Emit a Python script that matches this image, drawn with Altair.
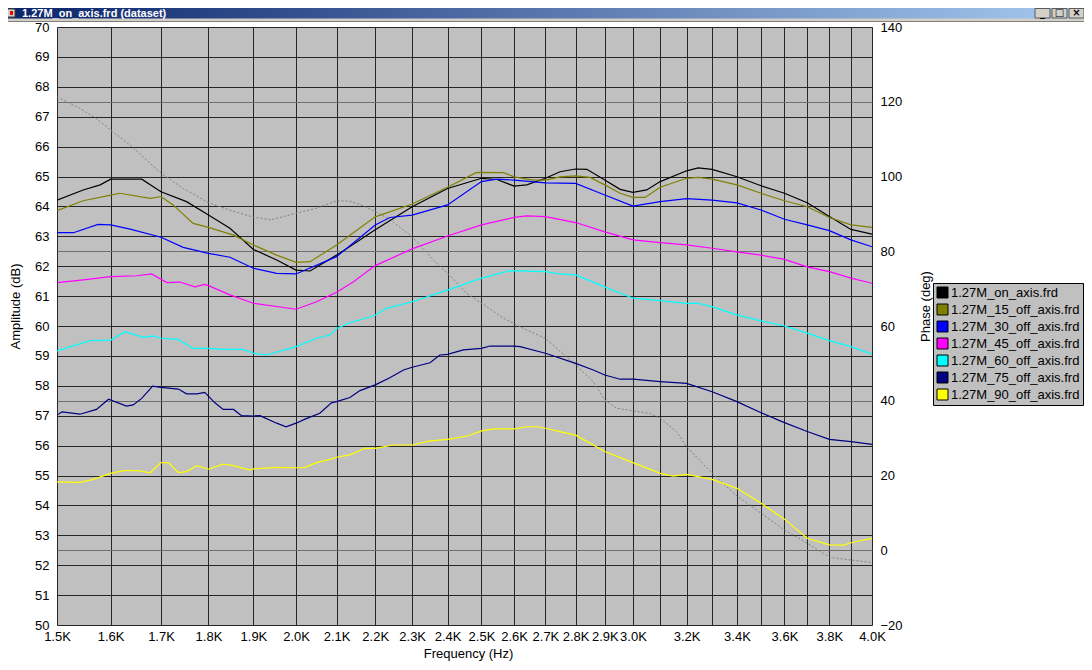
import altair as alt
import pandas as pd

FONT = "Liberation Sans"
WINDOW_TITLE = "1.27M_on_axis.frd (dataset)"

SERIES = [
    "1.27M_on_axis.frd",
    "1.27M_15_off_axis.frd",
    "1.27M_30_off_axis.frd",
    "1.27M_45_off_axis.frd",
    "1.27M_60_off_axis.frd",
    "1.27M_75_off_axis.frd",
    "1.27M_90_off_axis.frd",
]
COLORS = ["#000000", "#808000", "#0000FF", "#FF00FF", "#00FFFF", "#000080", "#FFFF00"]

ON_F = [1500, 1548, 1580, 1600, 1661, 1700, 1753, 1800, 1847, 1900, 1954, 2000, 2034, 2100, 2200,
        2300, 2400, 2500, 2547, 2600, 2640, 2700, 2748, 2800, 2838, 2900, 2954, 3000, 3050, 3100,
        3200, 3245, 3300, 3400, 3500, 3600, 3700, 3800, 3900, 4000]
ON_DB = [64.21, 64.55, 64.72, 64.91, 64.91, 64.49, 64.16, 63.71, 63.27, 62.56, 62.21, 61.87, 61.84,
         62.37, 63.22, 63.99, 64.60, 64.94, 64.90, 64.68, 64.72, 64.94, 65.16, 65.25, 65.24, 64.88,
         64.57, 64.47, 64.55, 64.83, 65.19, 65.29, 65.24, 64.99, 64.69, 64.44, 64.12, 63.66, 63.23,
         63.07]

D15_F = [1500, 1548, 1600, 1618, 1678, 1700, 1725, 1767, 1800, 1855, 1900, 1954, 2000, 2034, 2100,
         2200, 2300, 2400, 2484, 2500, 2567, 2600, 2661, 2700, 2748, 2800, 2849, 2900, 2954, 3000,
         3044, 3100, 3200, 3245, 3300, 3400, 3500, 3600, 3700, 3800, 3900, 4000]
D15_DB = [63.86, 64.19, 64.38, 64.44, 64.27, 64.33, 64.05, 63.43, 63.30, 63.04, 62.71, 62.37, 62.13,
          62.15, 62.71, 63.65, 64.08, 64.64, 65.13, 65.14, 65.13, 64.99, 64.88, 64.88, 64.99, 65.02,
          64.97, 64.72, 64.44, 64.30, 64.30, 64.64, 64.94, 64.97, 64.91, 64.72, 64.44, 64.19, 63.99,
          63.63, 63.38, 63.30]

D30_F = [1500, 1530, 1576, 1600, 1638, 1700, 1746, 1800, 1847, 1900, 1954, 2000, 2100, 2200, 2239,
         2300, 2400, 2500, 2547, 2600, 2700, 2800, 2900, 3000, 3100, 3200, 3300, 3400, 3500, 3600,
         3700, 3800, 3900, 4000]
D30_DB = [63.12, 63.12, 63.40, 63.38, 63.24, 62.97, 62.63, 62.43, 62.30, 61.93, 61.76, 61.74, 62.32,
          63.38, 63.63, 63.71, 64.05, 64.83, 64.91, 64.88, 64.79, 64.77, 64.38, 64.01, 64.16, 64.26,
          64.21, 64.12, 63.88, 63.57, 63.38, 63.19, 62.88, 62.65]

D45_F = [1500, 1548, 1600, 1651, 1681, 1712, 1739, 1771, 1792, 1800, 1847, 1900, 2000, 2050, 2100,
         2143, 2200, 2300, 2400, 2500, 2600, 2640, 2700, 2800, 2900, 3000, 3100, 3200, 3300, 3400,
         3500, 3600, 3700, 3800, 3900, 4000]
D45_DB = [61.45, 61.54, 61.65, 61.68, 61.74, 61.45, 61.47, 61.31, 61.39, 61.35, 61.04, 60.76, 60.56,
          60.81, 61.13, 61.48, 62.02, 62.58, 63.01, 63.38, 63.63, 63.68, 63.66, 63.46, 63.15, 62.88,
          62.79, 62.71, 62.60, 62.48, 62.37, 62.23, 61.98, 61.82, 61.60, 61.43]

D60_F = [1500, 1561, 1600, 1628, 1664, 1684, 1700, 1736, 1767, 1800, 1832, 1877, 1900, 1931, 2000,
         2050, 2083, 2100, 2134, 2200, 2230, 2300, 2400, 2500, 2588, 2700, 2748, 2800, 2900, 3000,
         3100, 3200, 3245, 3300, 3400, 3500, 3600, 3700, 3800, 3900, 4000]
D60_DB = [59.17, 59.51, 59.53, 59.81, 59.62, 59.67, 59.59, 59.55, 59.25, 59.25, 59.22, 59.22, 59.09,
          59.03, 59.31, 59.59, 59.70, 59.92, 60.11, 60.36, 60.59, 60.81, 61.20, 61.60, 61.85, 61.82,
          61.74, 61.71, 61.31, 60.93, 60.85, 60.76, 60.76, 60.65, 60.37, 60.17, 60.00, 59.76, 59.51,
          59.31, 59.06]

D75_F = [1500, 1509, 1542, 1573, 1596, 1631, 1644, 1661, 1683, 1700, 1736, 1753, 1775, 1792, 1814,
         1832, 1855, 1873, 1900, 1915, 1954, 1976, 2000, 2026, 2058, 2087, 2100, 2134, 2160, 2200,
         2239, 2276, 2300, 2350, 2378, 2400, 2446, 2500, 2526, 2600, 2619, 2700, 2800, 2860, 2900,
         2954, 3000, 3100, 3200, 3300, 3400, 3500, 3600, 3700, 3800, 3900, 4000]
D75_DB = [57.02, 57.13, 57.05, 57.21, 57.55, 57.32, 57.36, 57.58, 57.99, 57.95, 57.89, 57.73, 57.73,
          57.78, 57.43, 57.21, 57.21, 57.00, 56.99, 57.00, 56.75, 56.63, 56.75, 56.91, 57.08, 57.43,
          57.47, 57.61, 57.84, 58.03, 58.27, 58.53, 58.62, 58.77, 59.03, 59.05, 59.20, 59.25, 59.33,
          59.33, 59.31, 59.09, 58.75, 58.53, 58.36, 58.22, 58.22, 58.14, 58.08, 57.80, 57.47, 57.10,
          56.77, 56.47, 56.21, 56.13, 56.04]

D90_F = [1500, 1542, 1567, 1600, 1625, 1654, 1678, 1700, 1715, 1736, 1753, 1775, 1800, 1832, 1855,
         1892, 1900, 1954, 2000, 2022, 2050, 2083, 2100, 2134, 2173, 2200, 2248, 2300, 2350, 2400,
         2461, 2500, 2536, 2600, 2640, 2677, 2700, 2748, 2800, 2900, 3000, 3100, 3149, 3200, 3300,
         3400, 3500, 3600, 3700, 3800, 3865, 3900, 4000]
D90_DB = [54.79, 54.77, 54.87, 55.07, 55.16, 55.16, 55.09, 55.43, 55.43, 55.10, 55.13, 55.33, 55.21,
          55.38, 55.33, 55.18, 55.22, 55.27, 55.26, 55.27, 55.43, 55.54, 55.61, 55.69, 55.91, 55.91,
          56.02, 56.02, 56.16, 56.21, 56.33, 56.49, 56.56, 56.56, 56.63, 56.63, 56.58, 56.47, 56.35,
          55.80, 55.43, 55.07, 54.98, 55.04, 54.87, 54.57, 54.07, 53.54, 52.90, 52.68, 52.67, 52.75,
          52.90]

PHASE_F = [1500, 1541, 1572, 1600, 1638, 1700, 1746, 1800, 1847, 1900, 1941, 2000, 2050, 2100, 2134,
           2163, 2200, 2239, 2300, 2359, 2400, 2456, 2500, 2567, 2629, 2700, 2800, 2860, 2900, 2942,
           3000, 3062, 3100, 3162, 3200, 3300, 3400, 3500, 3600, 3700, 3800, 3900, 4000]
PHASE_DEG = [121.3, 118.3, 115.6, 112.4, 108.4, 100.9, 96.8, 93.0, 91.0, 89.1, 88.4, 90.2, 91.5, 93.5,
             93.4, 92.4, 90.6, 88.5, 83.9, 77.7, 74.1, 68.7, 66.1, 62.1, 59.4, 56.7, 49.6, 45.1, 40.2,
             38.0, 37.3, 36.6, 35.3, 31.7, 27.7, 20.6, 14.5, 9.9, 5.4, 1.9, -1.9, -2.6, -3.3]

X_TICKS = list(range(1500, 4001, 100))
AMP_TICKS = list(range(50, 71))
PHASE_TICKS = list(range(-20, 141, 20))

# ---- build tables ----
freq_lists = [ON_F, D15_F, D30_F, D45_F, D60_F, D75_F, D90_F]
db_lists = [ON_DB, D15_DB, D30_DB, D45_DB, D60_DB, D75_DB, D90_DB]
rows = []
for name, fs, ds in zip(SERIES, freq_lists, db_lists):
    for f, d in zip(fs, ds):
        rows.append({"series": name, "freq": f, "db": d})
amp_df = pd.DataFrame(rows)
phase_df = pd.DataFrame({"freq": PHASE_F, "deg": PHASE_DEG})
legend_df = pd.DataFrame({"series": SERIES})

W, H = 815, 598
DARK_GRID = "#262626"

x_scale = alt.Scale(type="log", domain=[1500, 4000], nice=False)
label_expr = ("(datum.value > 3000 && round(datum.value / 100) % 2 == 1) ? '' : "
              "format(datum.value / 1000, '.1f') + 'K'")
x_axis = alt.Axis(values=X_TICKS, labelExpr=label_expr, title="Frequency (Hz)",
                  grid=True, gridColor=DARK_GRID, gridWidth=1, gridOpacity=1,
                  ticks=False, domain=False, labelFont=FONT, labelFontSize=13,
                  labelColor="black", labelPadding=5, labelOverlap=False, labelFlush=False,
                  labelBound=False, titleFont=FONT, titleFontSize=13, titleFontWeight="normal",
                  titleColor="black", titleX=411, titleY=28, titleBaseline="middle",
                  titleAlign="center")

amp_axis = alt.Axis(values=AMP_TICKS, title="Amplitude (dB)", grid=True, gridColor=DARK_GRID,
                    gridWidth=1, gridOpacity=1, ticks=False, domain=False, labelFont=FONT,
                    labelFontSize=13, labelColor="black", labelPadding=8, labelOverlap=False,
                    labelFlush=False, titleFont=FONT, titleFontSize=13, titleFontWeight="normal",
                    titleColor="black", titleAngle=270, titleX=-42, titleY=279,
                    titleBaseline="middle", titleAlign="center")

phase_axis = alt.Axis(orient="right", values=PHASE_TICKS, title="Phase (deg)", grid=True,
                      gridColor="#6e6e6e", gridWidth=1, gridOpacity=1, ticks=False, domain=False,
                      labelFont=FONT, labelFontSize=13, labelColor="black", labelPadding=8,
                      labelOverlap=False, labelFlush=False, titleFont=FONT, titleFontSize=13,
                      titleFontWeight="normal", titleColor="black", titleAngle=270, titleX=53,
                      titleY=279, titleBaseline="middle", titleAlign="center")

phase = alt.Chart(phase_df).mark_line(color="#808080", strokeDash=[2, 2], strokeWidth=1,
                                      clip=True).encode(
    x=alt.X("freq:Q", scale=x_scale, axis=x_axis),
    y=alt.Y("deg:Q", scale=alt.Scale(domain=[-20, 140], nice=False, zero=False), axis=phase_axis),
)

# line colours: same mapping, domain listed in reverse so this scale is not merged with the legend's
amp = alt.Chart(amp_df).mark_line(strokeWidth=1.2, clip=True).encode(
    x=alt.X("freq:Q", scale=x_scale, axis=x_axis),
    y=alt.Y("db:Q", scale=alt.Scale(domain=[50, 70], nice=False, zero=False), axis=amp_axis),
    color=alt.Color("series:N",
                    scale=alt.Scale(domain=SERIES[::-1], range=COLORS[::-1]),
                    legend=None),
    detail="series:N",
)

# legend carrier: squares placed outside the clipped plot area, so only the legend shows
legend_layer = alt.Chart(legend_df).mark_square(
    size=121, filled=True, stroke="black", strokeWidth=1, opacity=1, clip=True
).encode(
    x=alt.value(-300),
    y=alt.value(-300),
    fill=alt.Fill(
        "series:N",
        scale=alt.Scale(domain=SERIES, range=COLORS),
        legend=alt.Legend(
            orient="none", legendX=876, legendY=256, title=None,
            fillColor="#C0C0C0", strokeColor="#000000", padding=3, cornerRadius=0,
            symbolType="square", symbolSize=121, symbolStrokeColor="black",
            symbolStrokeWidth=1, symbolOpacity=1, labelFont=FONT, labelFontSize=13,
            labelColor="black", labelOffset=2, rowPadding=2,
        ),
    ),
)

# ---- window chrome (decoration only) ----
one = pd.DataFrame({"k": [0]})
L, T = -49, -19  # chart origin relative to plot origin

gray_band = alt.Chart(one).mark_rect(color="#D4D0C8").encode(
    x=alt.value(L), x2=alt.value(L + 1076), y=alt.value(T), y2=alt.value(T + 14))
title_bar = alt.Chart(one).mark_rect(
    color=alt.Gradient(gradient="linear",
                       stops=[alt.GradientStop(color="#0A246A", offset=0),
                              alt.GradientStop(color="#A6CAF0", offset=1)],
                       x1=0, x2=1, y1=0, y2=0)
).encode(x=alt.value(L), x2=alt.value(L + 1080), y=alt.value(T), y2=alt.value(T + 10.5))
sunken = alt.Chart(one).mark_rule(color="#808080", strokeWidth=1).encode(
    x=alt.value(L), x2=alt.value(L + 1076), y=alt.value(T + 13.5))
title_text = alt.Chart(one).mark_text(
    align="left", baseline="alphabetic", font=FONT, fontSize=11, fontWeight="bold", color="white"
).encode(x=alt.value(L + 14), y=alt.value(T + 9), text=alt.value(WINDOW_TITLE))

icon = alt.Chart(one).mark_rect(color="#D4D0C8", stroke="#404040", strokeWidth=1).encode(
    x=alt.value(L - 4), x2=alt.value(L + 7), y=alt.value(T + 1), y2=alt.value(T + 9))
icon_red = alt.Chart(one).mark_rect(color="#FF0000").encode(
    x=alt.value(L + 2), x2=alt.value(L + 5), y=alt.value(T + 3), y2=alt.value(T + 7))

buttons = []
for i, glyph in enumerate(["_", "\u25a1", "\u00d7"]):
    bx = L + 1027 + i * 17
    buttons.append(alt.Chart(one).mark_rect(color="#D4D0C8", stroke="#404040", strokeWidth=0.8).encode(
        x=alt.value(bx), x2=alt.value(bx + 15), y=alt.value(T + 0.5), y2=alt.value(T + 10)))
    buttons.append(alt.Chart(one).mark_text(
        align="center", baseline="middle", font="DejaVu Sans", fontSize=10, fontWeight="bold",
        color="black").encode(x=alt.value(bx + 7.5), y=alt.value(T + 5), text=alt.value(glyph)))

chart = alt.layer(
    phase, amp, legend_layer,
    gray_band, title_bar, sunken, title_text, icon, icon_red, *buttons,
).resolve_scale(
    y="independent"
).properties(
    width=W, height=H,
    padding={"left": 49, "top": 19, "right": 212, "bottom": 37},
    autosize=alt.AutoSizeParams(type="none"),
    background="white",
).configure_view(
    fill="#C0C0C0", stroke="transparent"
)

chart.save("out.html", embed_options={"renderer": "svg", "actions": False})
